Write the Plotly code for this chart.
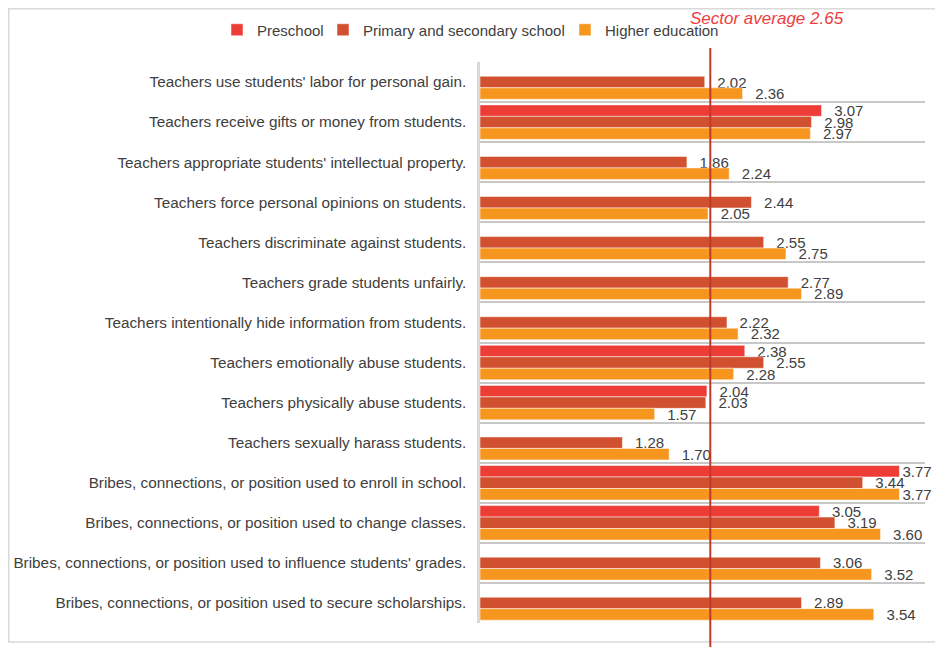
import plotly.graph_objects as go

categories = [
    "Teachers use students' labor for personal gain.",
    "Teachers receive gifts or money from students.",
    "Teachers appropriate students' intellectual property.",
    "Teachers force personal opinions on students.",
    "Teachers discriminate against students.",
    "Teachers grade students unfairly.",
    "Teachers intentionally hide information from students.",
    "Teachers emotionally abuse students.",
    "Teachers physically abuse students.",
    "Teachers sexually harass students.",
    "Bribes, connections, or position used to enroll in school.",
    "Bribes, connections, or position used to change classes.",
    "Bribes, connections, or position used to influence students' grades.",
    "Bribes, connections, or position used to secure scholarships.",
]

preschool = [None, 3.07, None, None, None, None, None, 2.38, 2.04, None, 3.77, 3.05, None, None]
primary_secondary = [2.02, 2.98, 1.86, 2.44, 2.55, 2.77, 2.22, 2.55, 2.03, 1.28, 3.44, 3.19, 3.06, 2.89]
higher_education = [2.36, 2.97, 2.24, 2.05, 2.75, 2.89, 2.32, 2.28, 1.57, 1.70, 3.77, 3.60, 3.52, 3.54]

series_names = ["Preschool", "Primary and secondary school", "Higher education"]
series_colors = ["#EE3D37", "#D1502F", "#F7961E"]
legend_widths = [61, 197, 0]

sector_average = 2.65
sector_line_x = 2.07  # where the reference draws its sector-average marker line

FONT = "Liberation Sans, Arial, sans-serif"
TEXT = "#404040"

# layout geometry (figure pixels; the page adds an 8px body margin)
W, H = 943, 647
PL, PR, PT, PB = 472, 917, 54, 615
X_MAX = 4


def px(x):
    return (x - PL) / (PR - PL)


def py(y):
    return (PB - y) / (PB - PT)


def label_templates(vals):
    # labels near the right edge sit closer to their bar, as in the reference
    return ["%{x:.2f}" if (v is not None and v > 0.92 * X_MAX) else "  \u200a%{x:.2f}" for v in vals]


fig = go.Figure()
for name, vals, col, lw in zip(series_names, [preschool, primary_secondary, higher_education],
                               series_colors, legend_widths):
    fig.add_trace(go.Bar(
        y=categories, x=vals, name=name, orientation="h",
        marker=dict(color=col, line=dict(color="white", width=0.5)),
        texttemplate=label_templates(vals), textposition="outside",
        textfont=dict(family=FONT, size=15, color=TEXT),
        constraintext="none", cliponaxis=False,
        legendwidth=lw if lw else None,
        hoverinfo="x+y+name",
    ))

fig.add_shape(type="line", xref="x", yref="paper",
              x0=sector_line_x, x1=sector_line_x, y0=py(H + 5), y1=py(40),
              line=dict(color="#C0392B", width=2), layer="above")
fig.add_annotation(xref="x", yref="paper", x=sector_line_x, y=py(10.5),
                   xanchor="left", yanchor="middle", xshift=-22, showarrow=False,
                   text=f"<i>Sector average {sector_average:.2f}</i>",
                   font=dict(family=FONT, size=17, color="#EE3D3D"))
# outer chart border
fig.add_shape(type="rect", xref="paper", yref="paper",
              x0=px(0.75), x1=px(W + 10), y0=py(634), y1=py(0.75),
              line=dict(color="#D9D9D9", width=1.5), layer="below")

fig.update_layout(
    width=W, height=H,
    margin=dict(l=PL, r=W - PR, t=PT, b=H - PB, autoexpand=False),
    paper_bgcolor="white", plot_bgcolor="white",
    barmode="group", bargap=0.14, bargroupgap=0.0,
    font=dict(family=FONT, size=15, color=TEXT),
    showlegend=True,
    legend=dict(orientation="h", xref="paper", yref="paper",
                x=px(209), xanchor="left",
                y=py(22), yanchor="middle",
                font=dict(family=FONT, size=15, color=TEXT),
                itemwidth=30, traceorder="normal"),
    xaxis=dict(range=[0, X_MAX], visible=False, showgrid=False, zeroline=False),
    yaxis=dict(type="category", autorange="reversed", tickson="boundaries",
               showgrid=True, gridcolor="#C8C8C8", gridwidth=1.5,
               showline=True, linecolor="#D9D9D9", linewidth=2.5,
               ticks="", ticklabelstandoff=8, automargin=False,
               tickfont=dict(family=FONT, size=15.3, color=TEXT)),
)

fig.write_html("out.html")
